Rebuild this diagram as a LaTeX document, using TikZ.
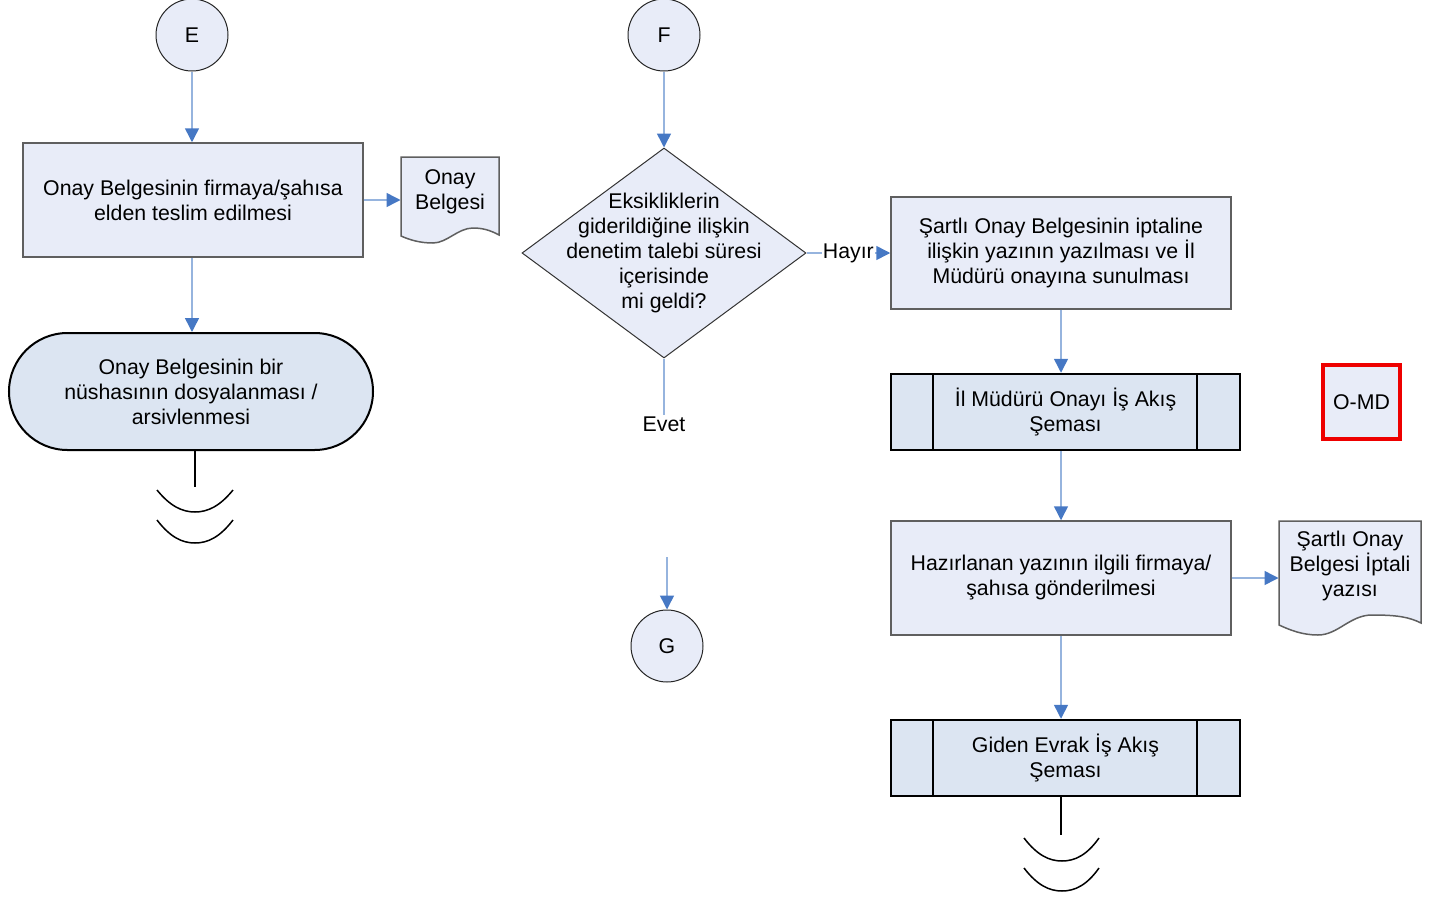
\documentclass[tikz,border=0pt]{standalone}
\usepackage{fontspec}
\setmainfont{Liberation Sans}
\usetikzlibrary{arrows.meta,shapes.geometric,shapes.misc}

\definecolor{boxfill}{RGB}{232,236,248}
\definecolor{procfill}{RGB}{220,229,242}
\definecolor{flowblue}{RGB}{150,180,222}
\definecolor{headblue}{RGB}{70,120,196}
\definecolor{edgegray}{RGB}{95,95,95}
\definecolor{omdred}{RGB}{238,0,0}

\tikzset{every picture/.style={line width=1pt}}
\tikzset{
	txt/.style={font=\fontsize{21.3}{25}\selectfont, align=center},
	stepbox/.style={txt, rectangle, draw=edgegray, fill=boxfill, line width=1.5pt, minimum width=340pt, inner sep=0pt},
	linkcircle/.style={txt, circle, draw=black!85, fill=boxfill, line width=1pt, minimum size=72pt, inner sep=0pt},
	decision/.style={diamond, draw=black!80, fill=boxfill, line width=1pt, minimum width=284pt, minimum height=210pt, inner sep=0pt},
	terminal/.style={txt, rounded rectangle, draw=black, fill=procfill, line width=2pt, minimum width=364pt, minimum height=117pt, inner sep=0pt},
	subproc/.style={txt, rectangle, draw=black, fill=procfill, line width=2.5pt, minimum width=349pt, minimum height=76pt, inner sep=0pt,
		path picture={\draw[line width=2pt] ([xshift=42pt]path picture bounding box.north west) -- ([xshift=42pt]path picture bounding box.south west);
			\draw[line width=2pt] ([xshift=-43pt]path picture bounding box.north east) -- ([xshift=-43pt]path picture bounding box.south east);}},
	docnode/.style={rectangle, draw=none, inner sep=0pt},
	docline/.style={draw=edgegray, fill=boxfill, line width=1.5pt},
	flow/.style={draw=flowblue, line width=1.5pt, -{Triangle[length=14pt,width=14pt,color=headblue]}},
	flowline/.style={draw=flowblue, line width=1.5pt},
	endline/.style={draw=black, line width=2pt},
}

\begin{document}
\begin{tikzpicture}[x=1pt,y=1pt,yscale=-1,xscale=1]
	\useasboundingbox (0,0) rectangle (1435,897);

	%Shape: Document outlines
	\draw[docline] (401,157) -- (499,157) -- (499,235) .. controls (490,230) and (482,228) .. (473,228) .. controls (458,228) and (447,243) .. (433,243) .. controls (420,243) and (410,240) .. (401,236) -- cycle ;
	\draw[docline] (1279,521) -- (1421,521) -- (1421,623) .. controls (1409,617) and (1397,615) .. (1372,615) .. controls (1350,615) and (1338,635) .. (1318,635) .. controls (1302,635) and (1290,630) .. (1279,625) -- cycle ;

	% Left column
	\node[linkcircle] (E) at (192,35) {E};
	\node[stepbox, minimum height=114pt] (teslim) at (193,200) {Onay Belgesinin firmaya/şahısa\\elden teslim edilmesi};
	\node[docnode, minimum width=98pt, minimum height=86pt, label={[txt,yshift=8.5pt]center:{Onay\\Belgesi}}] (onaydoc) at (450,200) {};
	\node[terminal] (arsiv) at (191,391.5) {Onay Belgesinin bir\\nüshasının dosyalanması /\\arsivlenmesi};
	\coordinate (sonL) at (195,487);

	% Middle column
	\node[linkcircle] (F) at (664,35) {F};
	\node[decision, label={[txt]center:{Eksikliklerin\\giderildiğine ilişkin\\denetim talebi süresi\\içerisinde\\mi geldi?}}] (kontrol) at (664,253) {};
	\node[txt, inner sep=1pt] (evet) at (664,424) {Evet};
	\coordinate (gin) at (667,557);
	\node[linkcircle] (G) at (667,646) {G};

	% Right column
	\node[stepbox, minimum height=112pt] (iptal) at (1061,253) {Şartlı Onay Belgesinin iptaline\\ilişkin yazının yazılması ve İl\\Müdürü onayına sunulması};
	\node[subproc] (mudur) at (1065.5,412) {İl Müdürü Onayı İş Akış\\Şeması};
	\node[txt, rectangle, draw=omdred, fill=boxfill, line width=3.5pt, minimum width=77pt, minimum height=74pt, inner sep=0pt] (omd) at (1361.5,402) {O-MD};
	\node[stepbox, minimum height=114pt] (gonder) at (1061,578) {Hazırlanan yazının ilgili firmaya/\\şahısa gönderilmesi};
	\node[docnode, minimum width=142pt, minimum height=114pt, label={[txt,yshift=12pt]center:{Şartlı Onay\\Belgesi İptali\\yazısı}}] (iptaldoc) at (1350,578) {};
	\node[subproc] (evrak) at (1065.5,758) {Giden Evrak İş Akış\\Şeması};
	\coordinate (sonR) at (1061,835);

	% Connectors
	\draw[flow] (E) -- (E |- teslim.north);
	\draw[flow] (teslim.east) -- (onaydoc.west);
	\draw[flow] (teslim.south -| E) -- (E |- arsiv.north);
	\draw[flow] (F) -- (kontrol.north);
	\draw[flow] (kontrol.east) -- node[txt, fill=white, inner sep=1pt] {Hayır} (iptal.west);
	\draw[flowline] (kontrol.south) -- (evet.north);
	\draw[flow] (gin) -- (G);
	\draw[flow] (iptal.south) -- (iptal.south |- mudur.north);
	\draw[flow] (gonder.north |- mudur.south) -- (gonder.north);
	\draw[flow] (gonder.east) -- (iptaldoc.west);
	\draw[flow] (gonder.south) -- (gonder.south |- evrak.north);

	% Ends
	\draw[endline] (arsiv.south -| sonL) -- (sonL);
	\draw[line width=1.5pt] (157,490) .. controls (170,506) and (182,512) .. (195,512) .. controls (208,512) and (220,506) .. (233,490);
	\draw[line width=1.5pt] (157,520) .. controls (170,537) and (182,543) .. (195,543) .. controls (208,543) and (220,537) .. (233,520);
	\draw[endline] (evrak.south -| sonR) -- (sonR);
	\draw[line width=1.5pt] (1024,838) .. controls (1037,855) and (1049,861) .. (1062,861) .. controls (1075,861) and (1087,855) .. (1099,838);
	\draw[line width=1.5pt] (1024,868) .. controls (1037,885) and (1049,891) .. (1062,891) .. controls (1075,891) and (1087,885) .. (1099,868);
\end{tikzpicture}
\end{document}
